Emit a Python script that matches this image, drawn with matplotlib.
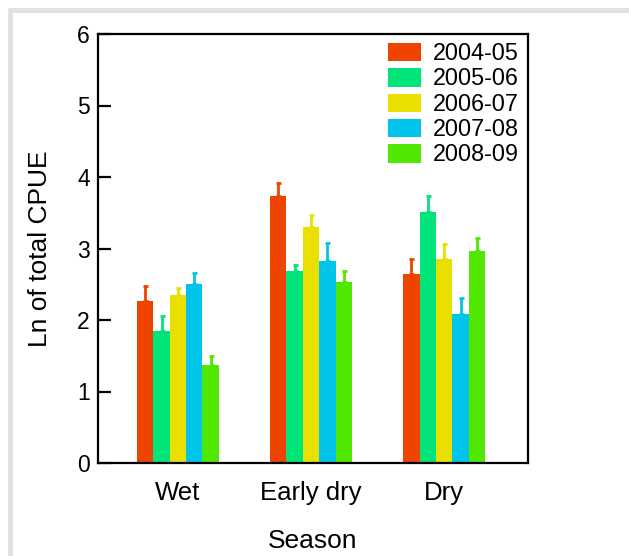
import matplotlib.pyplot as plt
import numpy as np
from matplotlib.patches import Rectangle

plt.rcParams['font.family'] = ['Liberation Sans', 'DejaVu Sans']

seasons = ["Wet", "Early dry", "Dry"]
years = ["2004-05", "2005-06", "2006-07", "2007-08", "2008-09"]
colors = ["#ee4400", "#00e47a", "#eae000", "#00c4ea", "#50e800"]

# mean ln CPUE per year, for Wet / Early dry / Dry
means = {
    "2004-05": [2.26, 3.74, 2.65],
    "2005-06": [1.84, 2.69, 3.51],
    "2006-07": [2.35, 3.30, 2.86],
    "2007-08": [2.51, 2.83, 2.09],
    "2008-09": [1.37, 2.53, 2.97],
}
# upper end of the standard error bars
err_tops = {
    "2004-05": [2.47, 3.91, 2.85],
    "2005-06": [2.06, 2.77, 3.73],
    "2006-07": [2.45, 3.47, 3.06],
    "2007-08": [2.66, 3.08, 2.31],
    "2008-09": [1.50, 2.69, 3.15],
}


def graph():
    fig = plt.figure(figsize=(6.29, 5.56), dpi=100)
    fig.patch.set_facecolor("white")
    # light grey frame around the figure (only top and left edges visible)
    fig.add_artist(Rectangle((10 / 629, -0.1), 1.2, 1.1 - 9.5 / 556,
                             transform=fig.transFigure, fill=False,
                             edgecolor="#e0e0e0", linewidth=3.5))

    ax = fig.add_axes([98 / 629, 1 - 463 / 556, 430 / 629, 429 / 556])

    x = np.arange(1, len(seasons) + 1)
    width = 0.123
    for i, yr in enumerate(years):
        pos = x + (i - 2) * width
        vals = np.array(means[yr])
        err = np.array(err_tops[yr]) - vals
        ax.bar(pos, vals, width, color=colors[i], label=yr, linewidth=0)
        ax.errorbar(pos, vals, yerr=[np.zeros_like(err), err], fmt="none",
                    ecolor=colors[i], elinewidth=2, capsize=1.8,
                    capthick=2)

    ax.set_xlim(0.40, 3.63)
    ax.set_ylim(0, 6)
    ax.set_xticks(x)
    ax.set_xticklabels(seasons)
    ax.set_yticks(range(0, 7))

    for s in ax.spines.values():
        s.set_linewidth(1.6)
    ax.tick_params(axis="y", direction="in", length=9, width=1.6,
                   labelsize=16.5, pad=6)
    ax.tick_params(axis="x", length=0, labelsize=18.5, pad=13)

    ax.set_xlabel("Season", fontsize=19, labelpad=17.5)
    ax.set_ylabel("Ln of total CPUE", fontsize=19, labelpad=18)

    ax.legend(loc="upper left", bbox_to_anchor=(0.674, 0.981),
              frameon=False, fontsize=16.8, borderpad=0, borderaxespad=0,
              handlelength=1.43, handleheight=0.83, handletextpad=0.5,
              labelspacing=0.1)

    fig.savefig("out.png", dpi=100)


if __name__ == "__main__":
    graph()
